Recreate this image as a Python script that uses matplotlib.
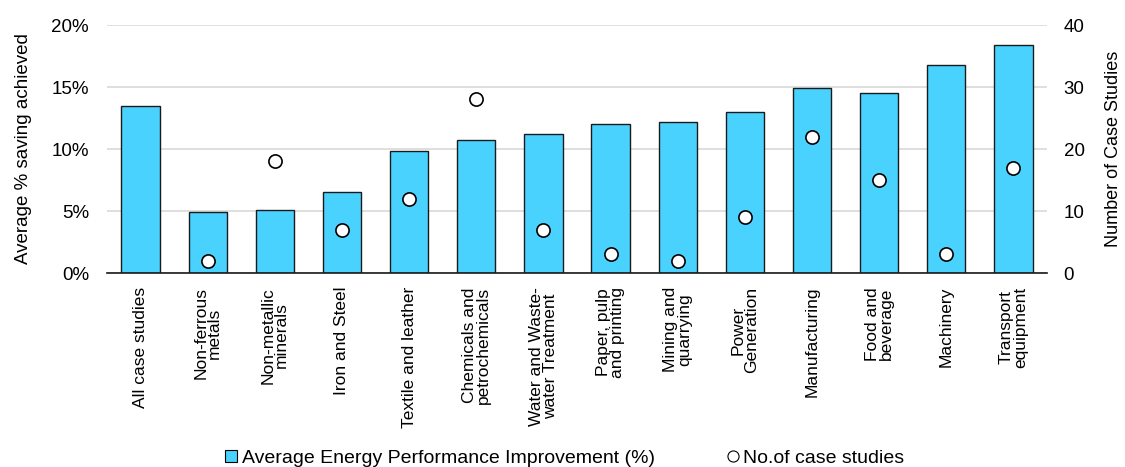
import numpy as np
import matplotlib.pyplot as plt
from matplotlib.lines import Line2D

plt.rcParams['font.family'] = ['Liberation Sans', 'DejaVu Sans']

# chart data
categories = ["All case studies", "Non-ferrous\nmetals", "Non-metallic\nminerals",
              "Iron and Steel", "Textile and leather", "Chemicals and\npetrochemicals",
              "Water and Waste-\nwater Treatment", "Paper, pulp\nand printing",
              "Mining and\nquarrying", "Power\nGeneration", "Manufacturing",
              "Food and\nbeverage", "Machinery", "Transport\nequipment"]
avg_improvement = [13.5, 4.95, 5.1, 6.5, 9.8, 10.7, 11.2, 12.0, 12.2, 13.0, 14.9, 14.5, 16.8, 18.4]
case_counts = [np.nan, 2, 18, 7, 12, 28, 7, 3, 2, 9, 22, 15, 3, 17]

bar_color = "#4AD2FF"

fig = plt.figure(figsize=(11.25, 4.67), dpi=100)
ax = fig.add_axes([107 / 1125, 1 - 273 / 467, 940 / 1125, 248 / 467])
x = np.arange(len(categories))

ax.bar(x, avg_improvement, width=0.57, color=bar_color, edgecolor="#1a1a1a", linewidth=1.0, zorder=3)
ax.set_ylim(0, 20)
ax.set_xlim(-0.5, len(categories) - 0.5)
ax.set_yticks([0, 5, 10, 15, 20])
ax.set_yticklabels(["0%", "5%", "10%", "15%", "20%"])
ax.yaxis.grid(True, color="#D9D9D9", linewidth=1.2, zorder=0)
ax.set_axisbelow(True)
ax.set_xticks(x)
ax.set_xticklabels(categories, rotation=90, va="top", ha="center", fontsize=12.5, linespacing=0.9)
ax.tick_params(axis="x", length=0, pad=10)
ax.tick_params(axis="y", length=0, labelsize=13.5, pad=13)
for s in ["top", "left", "right"]:
    ax.spines[s].set_visible(False)
ax.spines["bottom"].set_color("#1a1a1a")
ax.spines["bottom"].set_linewidth(1.2)
ax.spines["bottom"].set_zorder(5)
ax.set_ylabel("Average % saving achieved", fontsize=13.5, labelpad=14)

ax2 = ax.twinx()
ax2.plot(x, case_counts, linestyle="none", marker="o", markersize=9.5,
         markerfacecolor="white", markeredgecolor="black", markeredgewidth=1.2, zorder=4)
ax2.set_ylim(0, 40)
ax2.set_yticks([0, 10, 20, 30, 40])
ax2.tick_params(axis="y", length=0, labelsize=13.5, pad=12)
for s in ["top", "left", "right", "bottom"]:
    ax2.spines[s].set_visible(False)
ax2.set_ylabel("Number of Case Studies", fontsize=13, labelpad=15)

handles = [
    Line2D([], [], linestyle="none", marker="s", markersize=8, markerfacecolor=bar_color,
           markeredgecolor="black", markeredgewidth=0.8),
    Line2D([], [], linestyle="none", marker="o", markersize=8, markerfacecolor="white",
           markeredgecolor="black", markeredgewidth=0.8),
]
fig.legend(handles, ["Average Energy Performance Improvement (%)", "No.of case studies"],
           loc="center", bbox_to_anchor=(563 / 1125, 1 - 458 / 467), ncol=2, frameon=False,
           fontsize=14, handletextpad=0.05, columnspacing=3.5, handlelength=1.0)

fig.savefig("out.png", dpi=100)
